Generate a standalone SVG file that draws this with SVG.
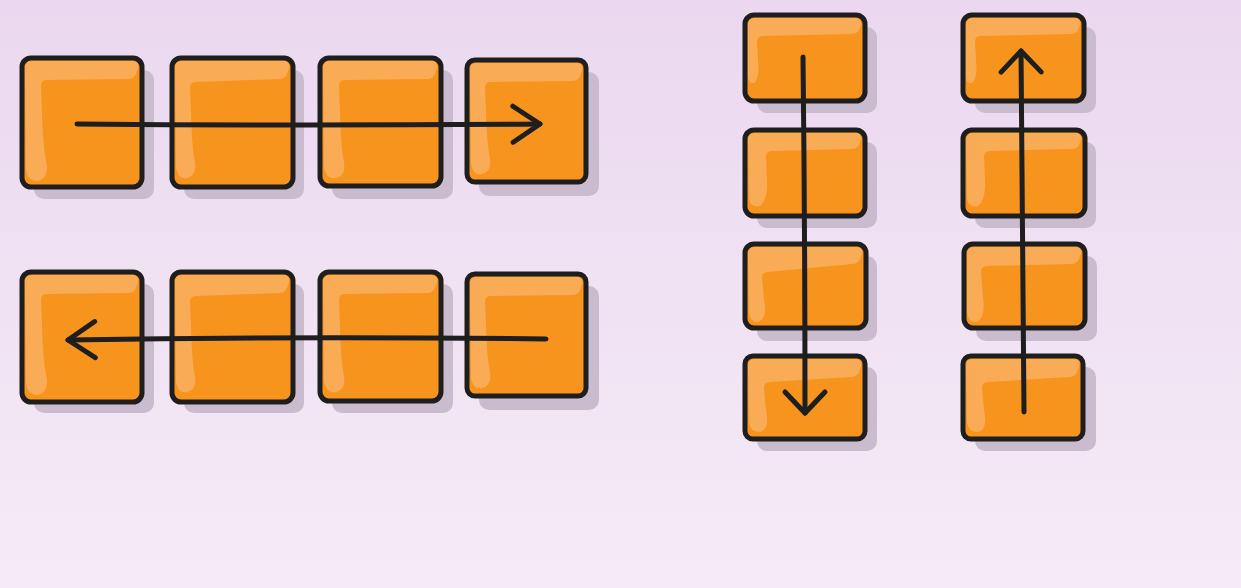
<svg xmlns="http://www.w3.org/2000/svg" width="1241" height="588" viewBox="0 0 1241 588">
  <defs>
    <linearGradient id="bg" x1="0" y1="0" x2="0" y2="1">
      <stop offset="0" stop-color="#ebd8f0"/>
      <stop offset="1" stop-color="#f5ebf6"/>
    </linearGradient>
    <marker id="headH" markerUnits="userSpaceOnUse" viewBox="-32 -22 36 44" refX="0" refY="0" markerWidth="36" markerHeight="44" orient="auto" overflow="visible">
      <path d="M-27,-18 L0,0 L-27,18" fill="none" stroke="#1e1e1e" stroke-width="5" stroke-linecap="round" stroke-linejoin="round"/>
    </marker>
    <marker id="headV" markerUnits="userSpaceOnUse" viewBox="-32 -22 36 44" refX="0" refY="0" markerWidth="36" markerHeight="44" orient="auto" overflow="visible">
      <path d="M-21,-20 L0,0 L-21,20" fill="none" stroke="#1e1e1e" stroke-width="5" stroke-linecap="round" stroke-linejoin="round"/>
    </marker>
  </defs>
  <style>
    .shadow { fill: #cbbbcf; }
    .body { fill: #f7941d; }
    .hl { fill: #f9ab56; }
    .edge { fill: none; stroke: #1e1e1e; stroke-width: 5; stroke-linejoin: round; }
    .conn { fill: none; stroke: #1e1e1e; stroke-width: 5; stroke-linecap: round; }
  </style>
  <rect x="0" y="0" width="1241" height="588" fill="url(#bg)"/>

  <!-- Horizontal boxes: 120 x 129 -->
  <g id="h1">
    <rect class="shadow" x="34" y="70" width="120" height="129" rx="10"/>
    <rect class="body" x="22" y="58" width="120" height="129" rx="9"/>
    <path class="hl" d="M25,68 Q25,61 32,61 L132,61 Q139,61 138,68 L136,74 Q134,79 128,79 L46,80 Q41,80 41,86 L42,112 Q43,150 47,165 Q48,178 38,181 Q28,182 26,170 Z"/>
    <rect class="edge" x="22" y="58" width="120" height="129" rx="9"/>
  </g>
  <g id="h2">
    <rect class="shadow" x="184" y="70" width="120" height="129" rx="10"/>
    <rect class="body" x="172" y="58" width="121" height="129" rx="9"/>
    <path class="hl" d="M175,68 Q175,61 182,61 L283,61 Q290,61 289,68 L287,74 Q285,79 279,79 L196,82 Q190,82 190,88 L191,112 Q192,150 195,162 Q197,176 187,178 Q178,180 176,168 Z"/>
    <rect class="edge" x="172" y="58" width="121" height="129" rx="9"/>
  </g>
  <g id="h3">
    <rect class="shadow" x="332" y="70" width="121" height="129" rx="10"/>
    <rect class="body" x="320" y="58" width="121" height="128" rx="9"/>
    <path class="hl" d="M323,68 Q323,61 330,61 L431,61 Q438,61 437,68 L435,74 Q433,79 427,79 L344,80 Q339,80 339,86 L340,112 Q341,150 344,162 Q346,176 336,178 Q327,180 324,168 Z"/>
    <rect class="edge" x="320" y="58" width="121" height="128" rx="9"/>
  </g>
  <g id="h4">
    <rect class="shadow" x="479" y="72" width="120" height="124" rx="10"/>
    <rect class="body" x="467" y="60" width="119" height="122" rx="9"/>
    <path class="hl" d="M470,70 Q470,63 477,63 L576,63 Q583,63 582,70 L580,76 Q578,81 572,81 L490,82 Q485,82 485,88 L486,112 Q487,145 490,158 Q492,172 482,174 Q473,176 471,164 Z"/>
    <rect class="edge" x="467" y="60" width="119" height="122" rx="8"/>
  </g>

  <g id="h5">
    <rect class="shadow" x="34" y="284" width="120" height="129" rx="10"/>
    <rect class="body" x="22" y="272" width="120" height="130" rx="9"/>
    <path class="hl" d="M25,282 Q25,275 32,275 L132,275 Q139,275 138,282 L136,288 Q134,293 128,293 L46,294 Q41,294 41,300 L42,326 Q43,364 47,379 Q48,392 38,395 Q28,396 26,384 Z"/>
    <rect class="edge" x="22" y="272" width="120" height="130" rx="9"/>
  </g>
  <g id="h6">
    <rect class="shadow" x="184" y="284" width="120" height="129" rx="10"/>
    <rect class="body" x="172" y="272" width="121" height="130" rx="9"/>
    <path class="hl" d="M175,282 Q175,275 182,275 L283,275 Q290,275 289,282 L287,288 Q285,293 279,293 L196,296 Q190,296 190,302 L191,326 Q192,364 195,376 Q197,390 187,392 Q178,394 176,382 Z"/>
    <rect class="edge" x="172" y="272" width="121" height="130" rx="9"/>
  </g>
  <g id="h7">
    <rect class="shadow" x="332" y="284" width="121" height="129" rx="10"/>
    <rect class="body" x="320" y="272" width="121" height="129" rx="9"/>
    <path class="hl" d="M323,282 Q323,275 330,275 L431,275 Q438,275 437,282 L435,288 Q433,293 427,293 L344,294 Q339,294 339,300 L340,326 Q341,364 344,376 Q346,390 336,392 Q327,394 324,382 Z"/>
    <rect class="edge" x="320" y="272" width="121" height="129" rx="9"/>
  </g>
  <g id="h8">
    <rect class="shadow" x="479" y="286" width="120" height="124" rx="10"/>
    <rect class="body" x="467" y="274" width="119" height="122" rx="8"/>
    <path class="hl" d="M470,284 Q470,277 477,277 L576,277 Q583,277 582,284 L580,290 Q578,295 572,295 L490,296 Q485,296 485,302 L486,326 Q487,359 490,372 Q492,386 482,388 Q473,390 471,378 Z"/>
    <rect class="edge" x="467" y="274" width="119" height="122" rx="8"/>
  </g>

  <!-- Vertical column 1: 120 x 86 -->
  <g id="v1">
    <rect class="shadow" x="757" y="27" width="120" height="86" rx="10"/>
    <rect class="body" x="745" y="15" width="120" height="86" rx="9"/>
    <path class="hl" d="M748,25 Q748,18 755,18 L855,18 Q862,18 861,25 L859,30 Q857,34 851,34 L762,36 Q757,36 757,42 L758,60 Q760,78 754,83 Q748,84 748,76 Z"/>
    <rect class="edge" x="745" y="15" width="120" height="86" rx="9"/>
  </g>
  <g id="v2">
    <rect class="shadow" x="757" y="142" width="120" height="86" rx="10"/>
    <rect class="body" x="745" y="130" width="120" height="86" rx="9"/>
    <path class="hl" d="M748,140 Q748,133 755,133 L855,133 Q862,133 861,140 L859,145 Q857,149 851,149 L772,151 Q766,151 766,157 L767,180 Q768,200 760,206 Q750,208 749,198 Z"/>
    <rect class="edge" x="745" y="130" width="120" height="86" rx="9"/>
  </g>
  <g id="v3">
    <rect class="shadow" x="757" y="256" width="120" height="85" rx="10"/>
    <rect class="body" x="745" y="244" width="121" height="84" rx="9"/>
    <path class="hl" d="M748,254 Q748,247 755,247 L856,247 Q863,247 862,254 L860,259 Q858,264 852,264 L768,272 Q762,272 762,278 L764,300 Q768,318 758,322 Q750,322 749,312 Z"/>
    <rect class="edge" x="745" y="244" width="121" height="84" rx="9"/>
  </g>
  <g id="v4">
    <rect class="shadow" x="757" y="367" width="120" height="84" rx="10"/>
    <rect class="body" x="745" y="356" width="120" height="83" rx="8"/>
    <path class="hl" d="M748,366 Q748,359 755,359 L855,359 Q862,359 861,366 L859,372 Q857,377 851,377 L770,382 Q764,382 764,388 L766,410 Q770,430 760,432 Q750,432 749,422 Z"/>
    <rect class="edge" x="745" y="356" width="120" height="83" rx="8"/>
  </g>

  <!-- Vertical column 2 -->
  <g id="v5">
    <rect class="shadow" x="975" y="27" width="121" height="86" rx="10"/>
    <rect class="body" x="963" y="15" width="121" height="86" rx="9"/>
    <path class="hl" d="M966,25 Q966,18 973,18 L1074,18 Q1081,18 1080,25 L1078,30 Q1076,34 1070,34 L980,36 Q975,36 975,42 L976,60 Q978,78 972,83 Q966,84 966,76 Z"/>
    <rect class="edge" x="963" y="15" width="121" height="86" rx="9"/>
  </g>
  <g id="v6">
    <rect class="shadow" x="975" y="142" width="121" height="86" rx="10"/>
    <rect class="body" x="963" y="130" width="122" height="86" rx="9"/>
    <path class="hl" d="M966,140 Q966,133 973,133 L1075,133 Q1082,133 1081,140 L1079,145 Q1077,149 1071,149 L990,151 Q984,151 984,157 L985,180 Q986,200 978,206 Q968,208 967,198 Z"/>
    <rect class="edge" x="963" y="130" width="122" height="86" rx="9"/>
  </g>
  <g id="v7">
    <rect class="shadow" x="976" y="256" width="121" height="85" rx="10"/>
    <rect class="body" x="964" y="244" width="121" height="84" rx="9"/>
    <path class="hl" d="M967,254 Q967,247 974,247 L1075,247 Q1082,247 1081,254 L1079,259 Q1077,264 1071,264 L987,266 Q981,266 981,272 L983,298 Q986,318 976,322 Q968,322 967,312 Z"/>
    <rect class="edge" x="964" y="244" width="121" height="84" rx="9"/>
  </g>
  <g id="v8">
    <rect class="shadow" x="975" y="367" width="121" height="84" rx="10"/>
    <rect class="body" x="963" y="356" width="120" height="83" rx="8"/>
    <path class="hl" d="M966,366 Q966,359 973,359 L1073,359 Q1080,359 1079,366 L1077,372 Q1075,377 1069,377 L988,382 Q982,382 982,388 L984,410 Q988,430 978,432 Q968,432 967,422 Z"/>
    <rect class="edge" x="963" y="356" width="120" height="83" rx="8"/>
  </g>

  <g id="connectors">
    <path class="conn" d="M77,124 Q300,126 540,124" marker-end="url(#headH)"/>
    <path class="conn" d="M546,339 Q300,336 68,340" marker-end="url(#headH)"/>
    <path class="conn" d="M803,57 Q805,230 805,413" marker-end="url(#headV)"/>
    <path class="conn" d="M1024,412 Q1022,230 1021,51" marker-end="url(#headV)"/>
  </g>
</svg>
